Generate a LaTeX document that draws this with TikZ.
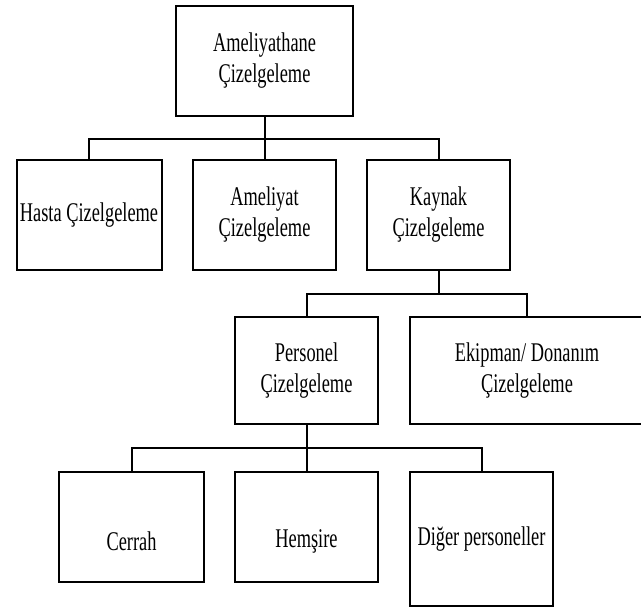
\documentclass[tikz,border=0pt]{standalone}
\usepackage{fontspec}
\setmainfont{Liberation Serif}[FakeStretch=0.68]
\begin{document}
\begin{tikzpicture}[x=1pt,y=-1pt,
  box/.style={draw, line width=2pt, inner sep=0pt, align=center,
    font=\fontsize{27}{31}\selectfont},
  conn/.style={line width=2pt}]
\useasboundingbox (0,0) rectangle (641,607);
\node[box, minimum width=177, minimum height=110] (top) at (264.5,61) {Ameliyathane\\Çizelgeleme};
\node[box, minimum width=145, minimum height=110] (hasta) at (89,215) {Hasta Çizelgeleme};
\node[box, minimum width=143, minimum height=110] (ameliyat) at (264.5,215) {Ameliyat\\Çizelgeleme};
\node[box, minimum width=143, minimum height=110] (kaynak) at (438.5,215) {Kaynak\\Çizelgeleme};
\node[box, minimum width=143, minimum height=107] (personel) at (306.5,370.5) {Personel\\Çizelgeleme};
\node[box, minimum width=234, minimum height=107] (ekipman) at (527,370.5) {Ekipman/ Donanım\\Çizelgeleme};
\node[box, minimum width=145, minimum height=110,
  label={[font=\fontsize{27}{31}\selectfont, yshift=-14pt]center:Cerrah}] (cerrah) at (131.5,527) {};
\node[box, minimum width=143, minimum height=110,
  label={[font=\fontsize{27}{31}\selectfont, yshift=-14pt]center:Hemşire}] (hemsire) at (306.5,527) {};
\node[box, minimum width=143, minimum height=134] (diger) at (481.5,539) {Diğer personeller};

\foreach \c in {hasta,ameliyat,kaynak}
  \draw[conn] (top.south) -- ++(0,22) -| (\c.north);
\foreach \c in {personel,ekipman}
  \draw[conn] (kaynak.south) -- ++(0,22.7) -| (\c.north);
\foreach \c in {cerrah,hemsire,diger}
  \draw[conn] (personel.south) -- ++(0,22.7) -| (\c.north);
\end{tikzpicture}
\end{document}
